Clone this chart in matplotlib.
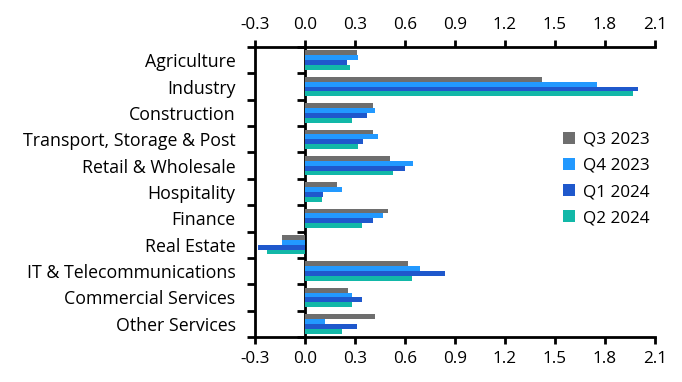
import numpy as np
import matplotlib
matplotlib.use("Agg")
import matplotlib.pyplot as plt
from matplotlib.ticker import FixedLocator

categories = ["Agriculture", "Industry", "Construction", "Transport, Storage & Post",
              "Retail & Wholesale", "Hospitality", "Finance", "Real Estate",
              "IT & Telecommunications", "Commercial Services", "Other Services"]
series_names = ["Q3 2023", "Q4 2023", "Q1 2024", "Q2 2024"]
q3_2023 = [0.31, 1.42, 0.41, 0.41, 0.51, 0.19, 0.50, -0.14, 0.62, 0.26, 0.42]
q4_2023 = [0.32, 1.75, 0.42, 0.44, 0.65, 0.22, 0.47, -0.14, 0.69, 0.28, 0.12]
q1_2024 = [0.25, 2.00, 0.37, 0.35, 0.60, 0.11, 0.41, -0.28, 0.84, 0.34, 0.31]
q2_2024 = [0.27, 1.97, 0.28, 0.32, 0.53, 0.10, 0.34, -0.23, 0.64, 0.28, 0.22]
xticks = [-0.3, 0.0, 0.3, 0.6, 0.9, 1.2, 1.5, 1.8, 2.1]
colors = ["#6e6e6e", "#2299ff", "#1f58cc", "#12b8a8"]

plt.rcParams['font.family'] = ['Open Sans', 'DejaVu Sans']
fig = plt.figure(figsize=(6.82, 3.82), dpi=100)
ax = fig.add_axes([255/682, 1-337/382, 400/682, 290/382])

n = len(categories)
y = np.arange(n)
bh = 0.185
allvals = [q3_2023, q4_2023, q1_2024, q2_2024]
for i, (vals, name, c) in enumerate(zip(allvals, series_names, colors)):
    ax.barh(y + (i - 1.5) * bh, vals, height=bh, color=c, label=name, linewidth=0)

xmin, xmax = -0.3, 2.1
ax.set_xlim(xmin, xmax)
ax.set_ylim(n - 0.5, -0.5)
ax.set_xticks(xticks)
ax.set_xticklabels([f"{t:.1f}" for t in xticks])
ax.xaxis.set_ticks_position('both')
ax.tick_params(axis='x', which='both', direction='out', length=5, width=2,
               labeltop=True, labelbottom=True, labelsize=12.3, pad=5, colors='black')

ax.set_yticks(y)
ax.set_yticklabels(categories)
ax.yaxis.set_minor_locator(FixedLocator(np.arange(-0.5, n, 1.0)))
ax.tick_params(axis='y', which='major', length=0, labelsize=12.8, pad=14)
ax.tick_params(axis='y', which='minor', length=6, width=2, direction='out')

for s in ['left', 'top', 'bottom']:
    ax.spines[s].set_linewidth(2)
ax.spines['right'].set_visible(False)

# zero line with its own boundary ticks
sec = ax.secondary_yaxis((0 - xmin) / (xmax - xmin))
sec.spines['left'].set_linewidth(2)
sec.yaxis.set_major_locator(FixedLocator(np.arange(-0.5, n, 1.0)))
sec.tick_params(axis='y', which='major', length=6, width=2, direction='out', labelleft=False)
sec.set_yticklabels([])

leg = ax.legend(loc='center left', bbox_to_anchor=(0.752, 0.545), frameon=False,
                fontsize=12.3, handlelength=0.7, handleheight=0.7, handletextpad=0.5,
                labelspacing=0.6, borderaxespad=0)

fig.savefig("out.png", dpi=100)
